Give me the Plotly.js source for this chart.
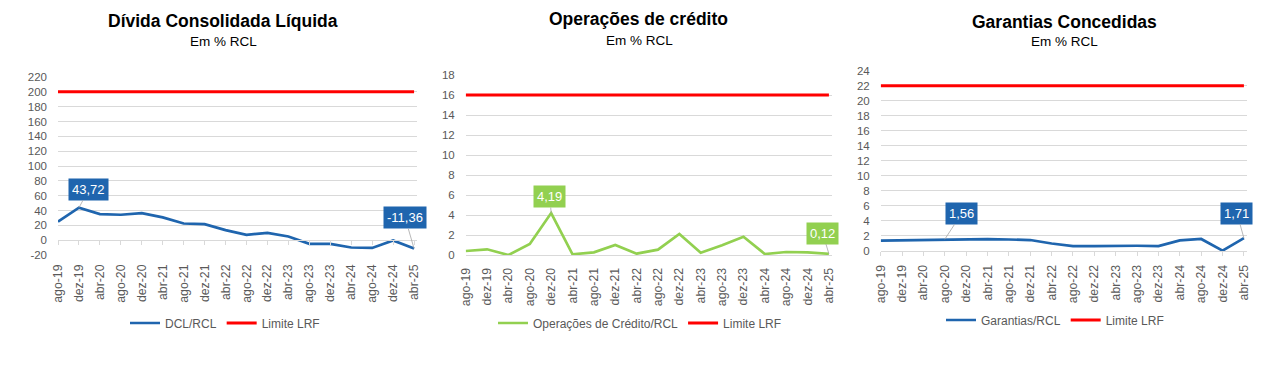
<!DOCTYPE html>
<html>
<head>
<meta charset="utf-8">
<script src="https://cdn.plot.ly/plotly-3.0.1.min.js"></script>
<style>
html,body{margin:0;padding:0;background:#fff;}
#chart{width:1276px;height:372px;}
</style>
</head>
<body>
<div id="chart"></div>
<script>
// ---- Data ----
const categories = ['ago-19','dez-19','abr-20','ago-20','dez-20','abr-21','ago-21','dez-21','abr-22','ago-22','dez-22','abr-23','ago-23','dez-23','abr-24','ago-24','dez-24','abr-25'];

const dclRcl = [25.0, 43.72, 35.2, 34.3, 36.5, 30.7, 22.5, 21.6, 13.5, 7.2, 9.9, 5.0, -5.0, -5.0, -9.9, -10.5, -0.5, -11.36];
const dclLimite = [200,200,200,200,200,200,200,200,200,200,200,200,200,200,200,200,200,200];
const dclTickVals = [-20, 0, 20, 40, 60, 80, 100, 120, 140, 160, 180, 200, 220];
const dclTickText = ['-20', '0', '20', '40', '60', '80', '100', '120', '140', '160', '180', '200', '220'];

const opCredito = [0.40, 0.57, 0.00, 1.10, 4.19, 0.07, 0.27, 1.00, 0.13, 0.53, 2.10, 0.23, 0.97, 1.83, 0.10, 0.30, 0.27, 0.12];
const opLimite = [16,16,16,16,16,16,16,16,16,16,16,16,16,16,16,16,16,16];

const garantias = [1.37, 1.42, 1.52, 1.56, 1.58, 1.58, 1.53, 1.46, 1.00, 0.66, 0.66, 0.70, 0.70, 0.66, 1.42, 1.60, 0.05, 1.71];
const garLimite = [22,22,22,22,22,22,22,22,22,22,22,22,22,22,22,22,22,22];

const titles = ['Dívida Consolidada Líquida', 'Operações de crédito', 'Garantias Concedidas'];
const subtitle = 'Em % RCL';
const seriesNames = ['DCL/RCL', 'Operações de Crédito/RCL', 'Garantias/RCL'];
const limitName = 'Limite LRF';

// ---- Styles ----
const W = 1276, H = 372;
const BLUE = '#1F65AE', GREEN = '#92D050', RED = '#FF0000';
const GRID = '#D9D9D9', TICK = '#595959';
const FONT = 'Liberation Sans, Arial, sans-serif';
const px = v => v / W;
const py = v => 1 - v / H;
const fmt = v => v.toFixed(2).replace('.', ',');

const yTickFont = {family: FONT, size: 11.5, color: TICK};
const xTickFont = {family: FONT, size: 12.3, color: TICK};

function lineTrace(y, name, color, width, xa, ya, legend) {
  return {x: categories, y: y, name: name, type: 'scatter', mode: 'lines',
    line: {color: color, width: width}, xaxis: xa, yaxis: ya, legend: legend, hoverinfo: 'skip'};
}

const traces = [
  lineTrace(dclRcl, seriesNames[0], BLUE, 2.7, 'x', 'y', 'legend'),
  lineTrace(dclLimite, limitName, RED, 3, 'x', 'y', 'legend'),
  lineTrace(opCredito, seriesNames[1], GREEN, 2.7, 'x2', 'y2', 'legend2'),
  lineTrace(opLimite, limitName, RED, 3, 'x2', 'y2', 'legend2'),
  lineTrace(garantias, seriesNames[2], BLUE, 2.7, 'x3', 'y3', 'legend3'),
  lineTrace(garLimite, limitName, RED, 3, 'x3', 'y3', 'legend3'),
  // invisible helper carrying the tick marks on the zero line of chart 1
  {x: categories, y: dclRcl, type: 'scatter', mode: 'lines', line: {width: 0}, opacity: 0,
   xaxis: 'x4', yaxis: 'y', showlegend: false, hoverinfo: 'skip'}
];

function xAxis(domain, range, anchor, opts) {
  return Object.assign({
    type: 'category', domain: domain, range: range, anchor: anchor,
    tickangle: -90, tickfont: xTickFont, showgrid: false, zeroline: false,
    showline: false, ticks: '', fixedrange: true, automargin: false
  }, opts || {});
}
function yAxis(domain, range, dtick, anchor, opts) {
  return Object.assign({
    domain: domain, range: range, dtick: dtick, anchor: anchor,
    tickfont: yTickFont, showgrid: true, gridcolor: GRID, gridwidth: 1,
    zeroline: false, showline: false, ticks: '', ticklabelstandoff: 10,
    fixedrange: true, automargin: false
  }, opts || {});
}

const legendBase = {orientation: 'h', xanchor: 'center', yanchor: 'middle',
  font: {family: FONT, size: 12, color: TICK}, bgcolor: 'rgba(0,0,0,0)', itemwidth: 30, tracegroupgap: 0};

function titleAnn(text, x, y, size, bold) {
  return {text: text, x: px(x), y: py(y), xref: 'paper', yref: 'paper',
    xanchor: 'center', yanchor: 'middle', showarrow: false,
    font: {family: FONT, size: size, color: '#000000', weight: bold ? 'bold' : 'normal'}};
}
function labelAnn(xa, ya, idx, values, color, ax, ay) {
  return {x: categories[idx], y: values[idx], xref: xa, yref: ya,
    text: fmt(values[idx]), showarrow: true, arrowhead: 0, arrowwidth: 0.8,
    arrowcolor: '#A6A6A6', ax: ax, ay: ay, bgcolor: color, borderpad: 3,
    font: {family: FONT, size: 13, color: '#FFFFFF'}};
}

const last = categories.length - 1;

const layout = {
  width: W, height: H,
  margin: {l: 0, r: 0, t: 0, b: 0},
  paper_bgcolor: '#FFFFFF', plot_bgcolor: 'rgba(0,0,0,0)',
  showlegend: true,
  xaxis: xAxis([px(58), px(417)], [0, 17.14], 'y', {ticklabelstandoff: 6}),
  yaxis: yAxis([py(255), py(77)], [-20, 220], 20, 'x',
    {tickmode: 'array', tickvals: dclTickVals, ticktext: dclTickText}),
  xaxis4: {type: 'category', overlaying: 'x', matches: 'x', anchor: 'free', position: py(240),
    showticklabels: false, ticks: 'outside', ticklen: 4, tickcolor: GRID, tickwidth: 1,
    showline: true, linecolor: GRID, linewidth: 1, showgrid: false, zeroline: false, fixedrange: true},
  xaxis2: xAxis([px(465.7), px(831.7)], [0, 17.13], 'y2', {showline: true, linecolor: GRID, ticklabelstandoff: 7}),
  yaxis2: yAxis([py(255), py(75)], [0, 18], 2, 'x2'),
  xaxis3: xAxis([px(880.7), px(1246.7)], [0, 17.13], 'y3', {showline: true, linecolor: GRID,
    ticks: 'outside', ticklen: 4, tickcolor: GRID, ticklabelstandoff: 4}),
  yaxis3: yAxis([py(251), py(70.7)], [0, 24], 2, 'x3'),
  legend: Object.assign({}, legendBase, {x: px(225), y: py(323)}),
  legend2: Object.assign({}, legendBase, {x: px(640), y: py(323)}),
  legend3: Object.assign({}, legendBase, {x: px(1055), y: py(320)}),
  annotations: [
    titleAnn(titles[0], 223.3, 21, 17.5, true),
    titleAnn(subtitle, 223.3, 41.5, 13.5, false),
    titleAnn(titles[1], 638.8, 19.3, 17.5, true),
    titleAnn(subtitle, 639.2, 40.8, 13.5, false),
    titleAnn(titles[2], 1064.5, 22, 17.5, true),
    titleAnn(subtitle, 1064.2, 41.7, 13.5, false),
    labelAnn('x', 'y', 1, dclRcl, BLUE, 10, -18.5),
    labelAnn('x', 'y', last, dclRcl, BLUE, -9, -31),
    labelAnn('x2', 'y2', 4, opCredito, GREEN, -1.4, -16.6),
    labelAnn('x2', 'y2', last, opCredito, GREEN, -6.3, -20.8),
    labelAnn('x3', 'y3', 3, garantias, BLUE, 17, -26),
    labelAnn('x3', 'y3', last, garantias, BLUE, -7, -25)
  ]
};

Plotly.newPlot('chart', traces, layout, {staticPlot: true, displayModeBar: false});
</script>
</body>
</html>
